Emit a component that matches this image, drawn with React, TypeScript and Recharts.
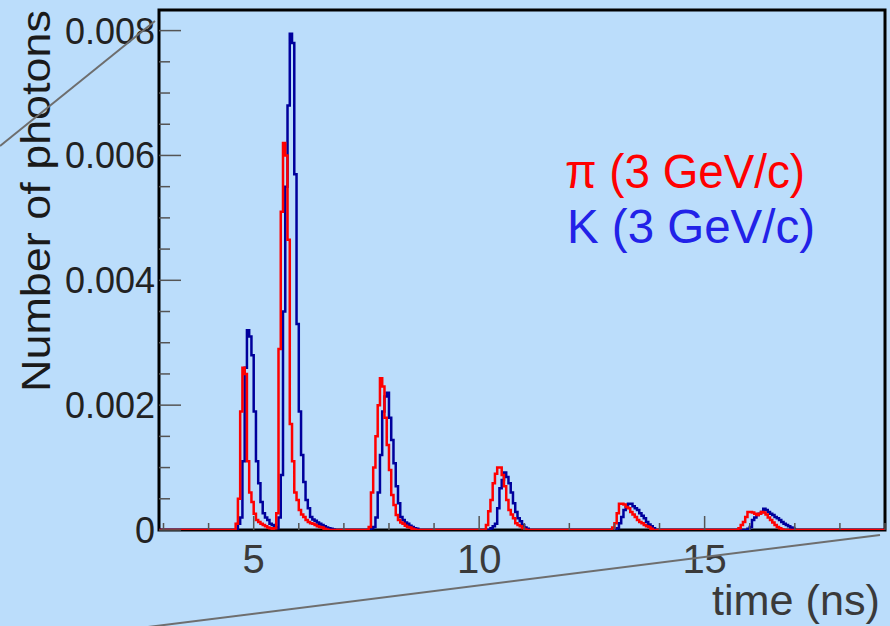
import { LineChart, Line, XAxis, YAxis, ReferenceArea } from 'recharts';

// histogram binning (ns)
const BIN = 0.05;
const T_MIN = 2.9;
const T_MAX = 19;
const Y_MAX = 0.00833;

// pion peaks: first bin time of each peak, then counts per bin
const piStarts = [4.6, 5.45, 7.55, 10.15, 12.95, 15.75];
const piPeak1 = [0.0001, 0.0005, 0.0019, 0.0026, 0.0025, 0.0011, 0.0006, 0.00045, 0.00026, 0.00016, 0.00013, 0.0001, 0.00008, 0.00006, 0.00004, 0.00003, 0.00002];
const piPeak2 = [0.00003, 0.00027, 0.0029, 0.0051, 0.0062, 0.006, 0.00465, 0.0017, 0.0011, 0.0006, 0.00048, 0.00032, 0.00025, 0.00021, 0.00016, 0.00013, 0.00011, 0.0001, 0.00008, 0.00006, 0.00005, 0.00004, 0.00002, 0.00001];
const piPeak3 = [0.00005, 0.0006, 0.001, 0.0015, 0.002, 0.00243, 0.0023, 0.0018, 0.00136, 0.00096, 0.00056, 0.0004, 0.00024, 0.00016, 0.00012, 0.0001, 0.00007, 0.00005, 0.00004, 0.00002, 0.00001];
const piPeak4 = [0.00008, 0.0003, 0.00048, 0.00075, 0.0009, 0.001, 0.001, 0.00088, 0.0007, 0.00048, 0.00032, 0.00025, 0.00019, 0.00011, 0.00008, 0.00006, 0.00003, 0.00001];
const piPeak5 = [0.00004, 0.00011, 0.00027, 0.00042, 0.00042, 0.00041, 0.00037, 0.00035, 0.00029, 0.00025, 0.00021, 0.00016, 0.00013, 0.00011, 0.00008, 0.00006, 0.00005, 0.00002];
const piPeak6 = [0.00003, 0.00008, 0.00013, 0.00021, 0.00029, 0.00029, 0.00028, 0.00026, 0.00024, 0.00026, 0.00029, 0.00028, 0.00025, 0.0002, 0.00016, 0.00012, 0.00008, 0.00005, 0.00003, 0.00001];

// kaon peaks
const kStarts = [4.65, 5.55, 7.6, 10.25, 13.05, 15.95];
const kPeak1 = [0.0001, 0.0002, 0.0011, 0.0026, 0.0032, 0.0031, 0.0028, 0.0019, 0.0011, 0.00075, 0.00045, 0.00027, 0.0002, 0.00016, 0.0001, 0.00008, 0.00005, 0.00003];
const kPeak2 = [0.0002, 0.00088, 0.0035, 0.0055, 0.0068, 0.00795, 0.0078, 0.0057, 0.0033, 0.0019, 0.0012, 0.00077, 0.00048, 0.00035, 0.00021, 0.00017, 0.00015, 0.00012, 0.0001, 0.00008, 0.00006, 0.00004, 0.00003, 0.00002, 0.00001];
const kPeak3 = [0.00003, 0.00005, 0.0002, 0.0006, 0.0012, 0.0019, 0.00214, 0.0022, 0.0018, 0.00144, 0.00107, 0.0007, 0.00043, 0.00021, 0.00016, 0.00012, 0.0001, 0.00007, 0.00005, 0.00003, 0.00002];
const kPeak4 = [0.00003, 0.00006, 0.0001, 0.00035, 0.00067, 0.0008, 0.00092, 0.00085, 0.00075, 0.0006, 0.00043, 0.00029, 0.00019, 0.00014, 0.00008, 0.00004, 0.00002];
const kPeak5 = [0.00003, 0.00011, 0.00021, 0.00032, 0.00037, 0.00042, 0.00042, 0.00038, 0.00035, 0.00032, 0.00027, 0.00023, 0.00019, 0.00013, 0.00009, 0.00006, 0.00003];
const kPeak6 = [0.00002, 0.00005, 0.00016, 0.0002, 0.00024, 0.00026, 0.00029, 0.00034, 0.00032, 0.00029, 0.00026, 0.00024, 0.00021, 0.00019, 0.00016, 0.00013, 0.0001, 0.00008, 0.00006, 0.00004, 0.00002];

const xTicks = [3, 4, 5, 6, 7, 8, 9, 10, 11, 12, 13, 14, 15, 16, 17, 18, 19];
const xMajor = [5, 10, 15];
const yTicks = [0, 0.0005, 0.001, 0.0015, 0.002, 0.0025, 0.003, 0.0035, 0.004, 0.0045, 0.005, 0.0055, 0.006, 0.0065, 0.007, 0.0075, 0.008];
const yMajor = [0, 0.002, 0.004, 0.006, 0.008];

const BG = '#BBDDFB';
const FONT = '"Liberation Sans", Arial, Helvetica, sans-serif';
const PLOT_LEFT = 159;
const PLOT_BOTTOM = 530;

function fillBins(starts: number[], peaks: number[][]) {
  const bins = new Map<number, number>();
  peaks.forEach((peak, p) => {
    const first = Math.round(starts[p] / BIN);
    peak.forEach((v, i) => bins.set(first + i, (bins.get(first + i) ?? 0) + v));
  });
  return bins;
}

const piBins = fillBins(piStarts, [piPeak1, piPeak2, piPeak3, piPeak4, piPeak5, piPeak6]);
const kBins = fillBins(kStarts, [kPeak1, kPeak2, kPeak3, kPeak4, kPeak5, kPeak6]);

const data: { t: number; pi: number; k: number }[] = [];
for (let i = Math.round(T_MIN / BIN); i <= Math.round(T_MAX / BIN); i++) {
  data.push({ t: +(i * BIN).toFixed(2), pi: piBins.get(i) ?? 0, k: kBins.get(i) ?? 0 });
}

// ticks point into the frame, labels only on the majors
function XTick(props: any) {
  const { x, payload } = props;
  const major = xMajor.includes(payload.value);
  return (
    <g>
      <line x1={x} x2={x} y1={PLOT_BOTTOM} y2={PLOT_BOTTOM - (major ? 14 : 7)} stroke="#555" strokeWidth={1.5} />
      {major && (
        <text x={x} y={573} textAnchor="middle" fontSize={40} fontFamily={FONT} fill="#3a3a3a">
          {payload.value}
        </text>
      )}
    </g>
  );
}

function YTick(props: any) {
  const { y, payload } = props;
  const major = yMajor.includes(payload.value);
  return (
    <g>
      <line x1={PLOT_LEFT} x2={PLOT_LEFT + (major ? 22 : 11)} y1={y} y2={y} stroke="#555" strokeWidth={1.5} />
      {major && (
        <text x={155} y={y} dy="0.36em" textAnchor="end" fontSize={36} fontFamily={FONT} fill="#222">
          {payload.value === 0 ? '0' : payload.value.toFixed(3)}
        </text>
      )}
    </g>
  );
}

export default function App() {
  return (
    <div style={{ position: 'absolute', left: 0, top: 0, width: 890, height: 626, background: BG, overflow: 'hidden' }}>
      <LineChart width={890} height={626} data={data} margin={{ top: 10, right: 5, bottom: 56, left: 99 }}>
        <ReferenceArea x1={T_MIN} x2={T_MAX} y1={0} y2={Y_MAX} fill="none" stroke="#000" strokeWidth={3} />
        <XAxis
          type="number"
          dataKey="t"
          domain={[T_MIN, T_MAX]}
          allowDataOverflow
          ticks={xTicks}
          interval={0}
          tick={<XTick />}
          tickLine={false}
          axisLine={false}
          height={40}
        />
        <YAxis
          type="number"
          domain={[0, Y_MAX]}
          allowDataOverflow
          ticks={yTicks}
          interval={0}
          tick={<YTick />}
          tickLine={false}
          axisLine={false}
          width={60}
        />
        <Line type="stepAfter" dataKey="k" stroke="#00009C" strokeWidth={2.5} dot={false} isAnimationActive={false} />
        <Line type="stepAfter" dataKey="pi" stroke="#FF0000" strokeWidth={2.5} dot={false} isAnimationActive={false} />
      </LineChart>
      <svg width={890} height={626} style={{ position: 'absolute', left: 0, top: 0, pointerEvents: 'none' }}>
        <text
          transform="translate(50,201) rotate(-90)"
          textAnchor="middle"
          fontSize={40}
          fontFamily={FONT}
          fill="#1a1a1a"
          textLength={382}
          lengthAdjust="spacingAndGlyphs"
        >
          Number of photons
        </text>
        <text x={712} y={615} fontSize={42} fontFamily={FONT} fill="#3a3a3a" textLength={168} lengthAdjust="spacingAndGlyphs">
          time (ns)
        </text>
        <text x={565} y={188} fontSize={48} fontFamily={FONT} fill="#FF0000" textLength={240} lengthAdjust="spacingAndGlyphs">
          π (3 GeV/c)
        </text>
        <text x={567} y={243} fontSize={48} fontFamily={FONT} fill="#2222E8" textLength={248} lengthAdjust="spacingAndGlyphs">
          K (3 GeV/c)
        </text>
        <line x1={0} y1={146} x2={155} y2={21} stroke="#6e6e6e" strokeWidth={2} />
        <line x1={148} y1={627} x2={880} y2={535} stroke="#6e6e6e" strokeWidth={2} />
      </svg>
    </div>
  );
}
